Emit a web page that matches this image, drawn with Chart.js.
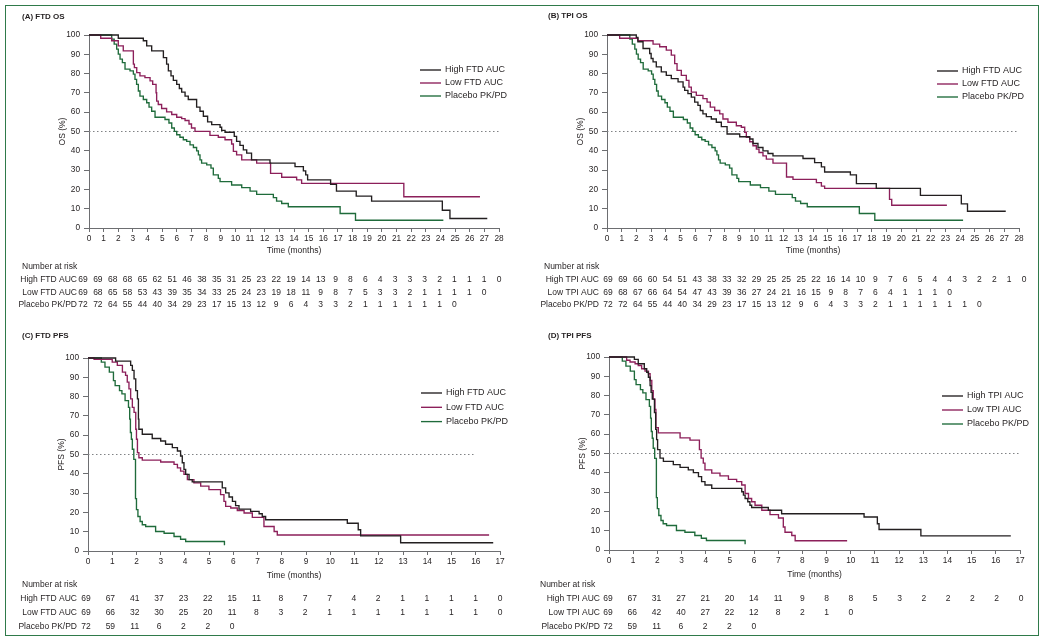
<!DOCTYPE html>
<html>
<head>
<meta charset="utf-8">
<script src="https://cdn.jsdelivr.net/npm/chart.js@4.4.1/dist/chart.umd.min.js"></script>
<style>
html,body{margin:0;padding:0;background:#fff;}
#wrap{position:relative;width:1050px;height:642px;overflow:hidden;}
canvas{position:absolute;}
#frame{position:absolute;left:5px;top:5px;width:1034px;height:631px;box-sizing:border-box;border:1.5px solid #2f7a4a;pointer-events:none;}
</style>
</head>
<body>
<div id="wrap">
<canvas id="cA" width="525" height="321" style="left:0;top:0"></canvas>
<canvas id="cB" width="525" height="321" style="left:525px;top:0"></canvas>
<canvas id="cC" width="525" height="321" style="left:0;top:321px"></canvas>
<canvas id="cD" width="525" height="321" style="left:525px;top:321px"></canvas>
<div id="frame"></div>
</div>
<script>
// ---------- tick labels ----------
const osTimeTicks = [0,1,2,3,4,5,6,7,8,9,10,11,12,13,14,15,16,17,18,19,20,21,22,23,24,25,26,27,28];
const pfsTimeTicks = [0,1,2,3,4,5,6,7,8,9,10,11,12,13,14,15,16,17];
const pctTicks = [0,10,20,30,40,50,60,70,80,90,100];

// ---------- series: [time (months), survival (%)] ----------
const ftdOsHigh = [[0,100],[2.0,98.3],[3.71,97],[3.94,94.4],[4.28,91.8],[5.08,88.3],[5.3,84.9],[5.42,81.4],[5.6,78.8],[5.76,76.5],[5.99,74.4],[6.17,72.3],[6.33,70.4],[6.56,68.3],[6.78,66.6],[7.35,62.6],[7.58,60.5],[7.81,57.9],[8.1,55],[8.38,53.6],[8.95,52.2],[9.06,50.6],[9.29,49.6],[9.92,47.5],[10.08,44.9],[10.31,42.8],[10.54,40.5],[10.77,38.8],[11.1,35.3],[12.36,33.6],[14.07,31.8],[14.64,29.6],[14.8,27.5],[14.93,24.9],[16.5,22.6],[16.9,19.1],[18.25,16.5],[19.3,13.9],[24.13,9.2],[24.65,4.9],[27.2,4.9]];
const ftdOsLow = [[0,100],[0.8,98.3],[1.55,97],[2.0,94.4],[2.34,91.8],[3.03,84.9],[3.1,83.1],[3.26,80.5],[3.48,78.8],[3.82,77.9],[4.17,76.2],[4.35,74.4],[4.58,70.1],[4.62,65.7],[4.73,64],[4.96,61.9],[5.3,60.2],[5.65,58.8],[5.99,57.4],[6.33,56.7],[6.56,55.7],[6.83,53.9],[7.0,51.8],[7.24,50.1],[8.26,48],[8.83,47],[9.29,45.7],[9.74,43.5],[9.86,39.7],[10.08,37.9],[10.43,35.3],[11.45,33.6],[12.4,28.3],[13.16,26.3],[14.18,24.9],[14.52,23.1],[21.5,16.2],[26.7,16.2]];
const placeboOs = [[0,100],[1.55,97.9],[1.72,95.3],[1.89,92.7],[2.0,90.1],[2.12,87.5],[2.28,85.7],[2.46,82.3],[2.8,81.4],[3.03,79.7],[3.14,77],[3.25,74.4],[3.37,71],[3.48,68.3],[3.71,66.6],[3.94,64.9],[4.1,62.6],[4.28,60.5],[4.51,57.4],[5.19,56.2],[5.46,54.4],[5.65,51.8],[5.83,50.1],[5.99,48.3],[6.21,47],[6.44,45.7],[6.67,44.9],[6.9,43.1],[7.13,41.7],[7.35,40],[7.47,37.9],[7.58,35.3],[7.69,33.6],[8.04,32.7],[8.33,31],[8.49,27.5],[8.83,25.7],[8.95,24],[9.74,22.3],[10.43,20.9],[11.0,19.1],[11.45,17.4],[12.59,15.7],[12.81,13.9],[13.16,12.7],[13.61,11],[17.15,7.5],[18.2,4],[24.2,4]];
const tpiOsHigh = [[0,100],[1.99,98.8],[2.1,96.5],[2.45,93],[2.9,90.4],[3.0,87.8],[3.13,86.1],[3.35,83.5],[3.69,80.9],[4.03,79.1],[4.37,77.4],[4.83,75.7],[5.17,73],[5.28,71.3],[5.5,69.6],[5.73,67.8],[5.96,65.2],[6.18,63.5],[6.34,60.9],[6.52,59.1],[6.75,57.7],[7.09,56.5],[7.43,54.8],[7.77,52.5],[8.16,48.7],[9.02,47.3],[9.7,46.1],[9.92,43.8],[10.26,41.7],[10.6,40],[10.94,38.6],[11.28,37.4],[13.32,36],[14.11,33.9],[14.57,31.7],[14.79,29],[16.54,27.5],[16.95,23],[18.3,20.5],[21.3,16.9],[24.08,12.5],[24.5,8.7],[27.1,8.7]];
const tpiOsLow = [[0,100],[0.86,98.3],[2.1,97],[3.13,95.3],[3.58,93.9],[4.03,92.2],[4.37,89.6],[4.6,85.2],[4.76,81.7],[5.05,79.1],[5.39,76.5],[5.57,73],[5.73,70.4],[6.07,68.7],[6.52,67],[6.8,65.2],[7.02,62.6],[7.32,60.9],[7.66,59.1],[7.88,56.5],[8.22,54.8],[8.79,53],[9.13,52.2],[9.36,49.6],[9.47,47],[9.7,44.7],[9.92,42.6],[10.15,40.9],[10.33,39.1],[10.6,37.4],[10.83,35.7],[11.28,33.6],[12.2,26.4],[12.64,25.2],[14.23,23.5],[14.57,21.7],[14.79,20.5],[19.2,14.8],[19.35,11.8],[23.1,11.8]];
const ftdPfsHigh = [[0,100],[1.14,98.4],[1.76,96.2],[1.83,93.6],[1.9,89.2],[1.97,83.1],[2.04,78.8],[2.08,68.3],[2.1,63.1],[2.24,60.5],[2.65,58.3],[3.0,57],[3.2,55.3],[3.48,53.6],[3.69,51.8],[3.82,49.2],[3.89,45.7],[3.96,42.3],[4.03,39.7],[4.17,37],[4.3,35.8],[5.54,32.7],[5.68,30.1],[5.82,28],[5.96,25.7],[6.09,23.5],[6.23,21.7],[6.71,20.5],[7.06,19.3],[7.19,17.9],[7.33,16.2],[10.7,14.4],[11.15,11],[11.25,7.8],[12.9,4.3],[16.72,4.3]];
const ftdPfsLow = [[0,100],[0.25,99.3],[1.0,97.9],[1.21,96.2],[1.42,92.7],[1.55,91],[1.62,87.5],[1.69,84],[1.76,78.8],[1.83,74.4],[1.9,71.8],[1.97,63.1],[2.0,57.9],[2.04,51],[2.1,48.3],[2.24,47.1],[3.0,46.1],[3.55,44.9],[3.69,43.1],[3.82,41.4],[3.96,39.7],[4.1,37],[4.37,35.3],[4.65,33.6],[4.99,31.8],[5.47,29.2],[5.61,25.7],[5.68,23.1],[5.89,22.3],[6.16,21],[6.44,19.7],[6.78,17.4],[7.26,12.7],[7.68,10.1],[7.81,8.3],[16.55,8.3]];
const placeboPfs = [[0,100],[0.55,97.9],[0.7,95.3],[0.88,92.7],[1.05,88.3],[1.12,85.7],[1.3,83.1],[1.4,81.4],[1.53,77.9],[1.67,74.4],[1.72,68.3],[1.75,61.4],[1.79,57.9],[1.83,52.7],[1.89,47.5],[1.96,27.1],[2.0,21.4],[2.06,17.9],[2.15,15.3],[2.24,13.6],[2.38,12.7],[2.79,10.1],[3.14,9.2],[3.55,7.5],[3.82,6.1],[4.03,4.9],[5.62,4.9],[5.63,3]];
const tpiPfsHigh = [[0,100],[1.05,98.8],[1.21,96.5],[1.46,93.9],[1.56,92.1],[1.63,89.5],[1.7,85.2],[1.74,81.7],[1.79,78.2],[1.88,71.2],[1.93,62.5],[1.97,57.2],[2.01,52],[2.11,47.6],[2.25,45.9],[2.66,44.2],[2.94,42.8],[3.28,41.5],[3.49,40.1],[3.7,38],[3.83,35.4],[3.97,33.7],[4.25,31.9],[5.49,30.2],[5.56,28.4],[5.63,26.7],[5.74,25],[5.83,23.2],[5.9,22],[6.59,20.6],[7.14,18.8],[10.55,17.1],[11.1,13.6],[11.17,10.6],[12.9,7.3],[16.62,7.3]];
const tpiPfsLow = [[0,100],[0.73,98.3],[0.87,97.4],[1.08,96.5],[1.21,95.6],[1.35,93.9],[1.49,92.7],[1.63,91.3],[1.7,87.8],[1.77,82.5],[1.83,78.2],[1.9,72.9],[1.94,63.4],[2.04,60.7],[2.94,58.1],[3.35,56.9],[3.74,52],[3.81,47.6],[3.9,45],[3.97,41.5],[4.25,39.8],[4.59,38.4],[4.94,36.6],[5.28,35.4],[5.49,33.7],[5.63,29.3],[5.77,26.7],[5.9,25],[6.04,23.2],[6.32,20.6],[6.66,18.3],[7.01,16.6],[7.21,11.9],[7.28,9.2],[7.56,7.5],[7.7,4.8],[9.85,4.8]];

// ---------- number at risk ----------
const riskOsFtdHigh = [69,69,68,68,65,62,51,46,38,35,31,25,23,22,19,14,13,9,8,6,4,3,3,3,2,1,1,1,0];
const riskOsFtdLow = [69,68,65,58,53,43,39,35,34,33,25,24,23,19,18,11,9,8,7,5,3,3,2,1,1,1,1,0];
const riskOsPlacebo = [72,72,64,55,44,40,34,29,23,17,15,13,12,9,6,4,3,3,2,1,1,1,1,1,1,0];
const riskOsTpiHigh = [69,69,66,60,54,51,43,38,33,32,29,25,25,25,22,16,14,10,9,7,6,5,4,4,3,2,2,1,0];
const riskOsTpiLow = [69,68,67,66,64,54,47,43,39,36,27,24,21,16,15,9,8,7,6,4,1,1,1,0];
const riskPfsFtdHigh = [69,67,41,37,23,22,15,11,8,7,7,4,2,1,1,1,1,0];
const riskPfsFtdLow = [69,66,32,30,25,20,11,8,3,2,1,1,1,1,1,1,1,0];
const riskPfsPlacebo = [72,59,11,6,2,2,0];
const riskPfsTpiHigh = [69,67,31,27,21,20,14,11,9,8,8,5,3,2,2,2,2,0];
const riskPfsTpiLow = [69,66,42,40,27,22,12,8,2,1,0];

// ---------- styles ----------
const FONT = "'Liberation Sans', Arial, Helvetica, sans-serif";
const TXT = '#231f20';
const AXIS = '#6d6e71';
const C_HIGH = '#231f20';
const C_LOW = '#8c1f5a';
const C_PBO = '#1f6b3b';
const YW = 35;

function panel(id, p) {
  const canvas = document.getElementById(id);
  const W = canvas.width, H = canvas.height;
  const datasets = p.series.map(s => ({
    label: s.label,
    data: s.data.map(d => ({x: d[0], y: d[1]})),
    borderColor: s.color, borderWidth: 1.35, stepped: true,
    pointRadius: 0, fill: false, clip: 4
  }));
  datasets.push({
    label: 'ref', data: [{x: 0, y: 50}, {x: p.refEnd, y: 50}],
    borderColor: '#808285', borderWidth: 1, borderDash: [1.5, 2.5],
    pointRadius: 0, fill: false, clip: 4
  });
  const extras = {
    id: 'extras_' + id,
    afterDraw(chart) {
      const ctx = chart.ctx;
      ctx.save();
      ctx.fillStyle = TXT;
      ctx.textBaseline = 'middle';
      ctx.textAlign = 'left';
      ctx.font = 'bold 8px ' + FONT;
      ctx.fillText(p.title, p.titleX, p.titleY);
      ctx.font = '9px ' + FONT;
      p.series.forEach((s, i) => {
        const y = p.legY + i * p.legDy;
        ctx.strokeStyle = s.color; ctx.lineWidth = 1.35;
        ctx.beginPath(); ctx.moveTo(p.legX, y); ctx.lineTo(p.legX + 21, y); ctx.stroke();
        ctx.fillText(s.label, p.legX + 25, y);
      });
      const xs = chart.scales.x;
      ctx.font = '8.5px ' + FONT;
      ctx.fillText('Number at risk', p.tabHeadX, p.tabHeadY);
      p.risk.forEach((r, i) => {
        const y = p.tabY + i * p.tabDy;
        ctx.textAlign = 'right';
        ctx.fillText(r.label, p.tabLabelX, y);
        ctx.textAlign = 'center';
        r.values.forEach((v, j) => {
          const f = j / p.xMax;
          const off = p.offStart * (1 - f) + p.offEnd * f;
          ctx.fillText(String(v), xs.getPixelForValue(j) + off, y);
        });
      });
      ctx.restore();
    }
  };
  return new Chart(canvas, {
    type: 'line',
    data: {datasets},
    plugins: [extras],
    options: {
      responsive: false, animation: false, devicePixelRatio: 1,
      layout: {padding: {left: p.plot.left - YW, right: W - p.plot.right, top: p.plot.top, bottom: H - p.plot.bottom - p.xH}},
      plugins: {legend: {display: false}, tooltip: {enabled: false}},
      scales: {
        x: {
          type: 'linear', min: 0, max: p.xMax,
          afterBuildTicks: s => { s.ticks = p.ticks.map(v => ({value: v})); },
          afterFit: s => { s.height = p.xH; s.paddingLeft = 0; s.paddingRight = 0; },
          ticks: {autoSkip: false, maxRotation: 0, minRotation: 0, font: {size: 8.3, family: FONT}, color: TXT, padding: 2},
          grid: {drawOnChartArea: false, drawTicks: true, tickLength: 4, color: AXIS, lineWidth: 1},
          border: {display: true, color: AXIS, width: 1},
          title: {display: true, text: 'Time (months)', font: {size: 8.5, family: FONT}, color: TXT, padding: {top: 4, bottom: 4}}
        },
        y: {
          min: 0, max: 100,
          afterBuildTicks: s => { s.ticks = pctTicks.map(v => ({value: v})); },
          afterFit: s => { s.width = YW; s.paddingTop = 0; s.paddingBottom = 0; },
          ticks: {font: {size: 8.3, family: FONT}, color: TXT, padding: 4},
          grid: {drawOnChartArea: false, drawTicks: true, tickLength: 5, color: AXIS, lineWidth: 1},
          border: {display: true, color: AXIS, width: 1},
          title: {display: true, text: p.yTitle, font: {size: 8.5, family: FONT}, color: TXT, padding: {top: 4, bottom: 4}}
        }
      }
    }
  });
}

panel('cA', {
  title: '(A) FTD OS', titleX: 22, titleY: 17, yTitle: 'OS (%)',
  xMax: 28, ticks: osTimeTicks, refEnd: 28,
  plot: {left: 89, right: 499, top: 35, bottom: 228}, xH: 32,
  series: [
    {label: 'High FTD AUC', data: ftdOsHigh, color: C_HIGH},
    {label: 'Low FTD AUC', data: ftdOsLow, color: C_LOW},
    {label: 'Placebo PK/PD', data: placeboOs, color: C_PBO}
  ],
  legX: 420, legY: 70, legDy: 13,
  risk: [
    {label: 'High FTD AUC', values: riskOsFtdHigh},
    {label: 'Low FTD AUC', values: riskOsFtdLow},
    {label: 'Placebo PK/PD', values: riskOsPlacebo}
  ],
  tabHeadX: 22, tabHeadY: 267, tabY: 280, tabDy: 12.5, tabLabelX: 77, offStart: -6, offEnd: 0
});

panel('cB', {
  title: '(B) TPI OS', titleX: 23, titleY: 16, yTitle: 'OS (%)',
  xMax: 28, ticks: osTimeTicks, refEnd: 28,
  plot: {left: 82, right: 494, top: 35, bottom: 228}, xH: 32,
  series: [
    {label: 'High FTD AUC', data: tpiOsHigh, color: C_HIGH},
    {label: 'Low FTD AUC', data: tpiOsLow, color: C_LOW},
    {label: 'Placebo PK/PD', data: placeboOs, color: C_PBO}
  ],
  legX: 412, legY: 71, legDy: 13,
  risk: [
    {label: 'High TPI AUC', values: riskOsTpiHigh},
    {label: 'Low TPI AUC', values: riskOsTpiLow},
    {label: 'Placebo PK/PD', values: riskOsPlacebo}
  ],
  tabHeadX: 19, tabHeadY: 267, tabY: 280, tabDy: 12.5, tabLabelX: 74, offStart: 1, offEnd: 5
});

panel('cC', {
  title: '(C) FTD PFS', titleX: 22, titleY: 15, yTitle: 'PFS (%)',
  xMax: 17, ticks: pfsTimeTicks, refEnd: 16,
  plot: {left: 88, right: 500, top: 37, bottom: 230}, xH: 34,
  series: [
    {label: 'High FTD AUC', data: ftdPfsHigh, color: C_HIGH},
    {label: 'Low FTD AUC', data: ftdPfsLow, color: C_LOW},
    {label: 'Placebo PK/PD', data: placeboPfs, color: C_PBO}
  ],
  legX: 421, legY: 72, legDy: 14.3,
  risk: [
    {label: 'High FTD AUC', values: riskPfsFtdHigh},
    {label: 'Low FTD AUC', values: riskPfsFtdLow},
    {label: 'Placebo PK/PD', values: riskPfsPlacebo}
  ],
  tabHeadX: 22, tabHeadY: 264, tabY: 278, tabDy: 14, tabLabelX: 77, offStart: -2, offEnd: 0
});

panel('cD', {
  title: '(D) TPI PFS', titleX: 23, titleY: 15, yTitle: 'PFS (%)',
  xMax: 17, ticks: pfsTimeTicks, refEnd: 17,
  plot: {left: 84, right: 495, top: 36, bottom: 229}, xH: 34,
  series: [
    {label: 'High TPI AUC', data: tpiPfsHigh, color: C_HIGH},
    {label: 'Low TPI AUC', data: tpiPfsLow, color: C_LOW},
    {label: 'Placebo PK/PD', data: placeboPfs, color: C_PBO}
  ],
  legX: 417, legY: 75, legDy: 14,
  risk: [
    {label: 'High TPI AUC', values: riskPfsTpiHigh},
    {label: 'Low TPI AUC', values: riskPfsTpiLow},
    {label: 'Placebo PK/PD', values: riskPfsPlacebo}
  ],
  tabHeadX: 15, tabHeadY: 264, tabY: 278, tabDy: 14, tabLabelX: 75, offStart: -1, offEnd: 1
});
</script>
</body>
</html>
